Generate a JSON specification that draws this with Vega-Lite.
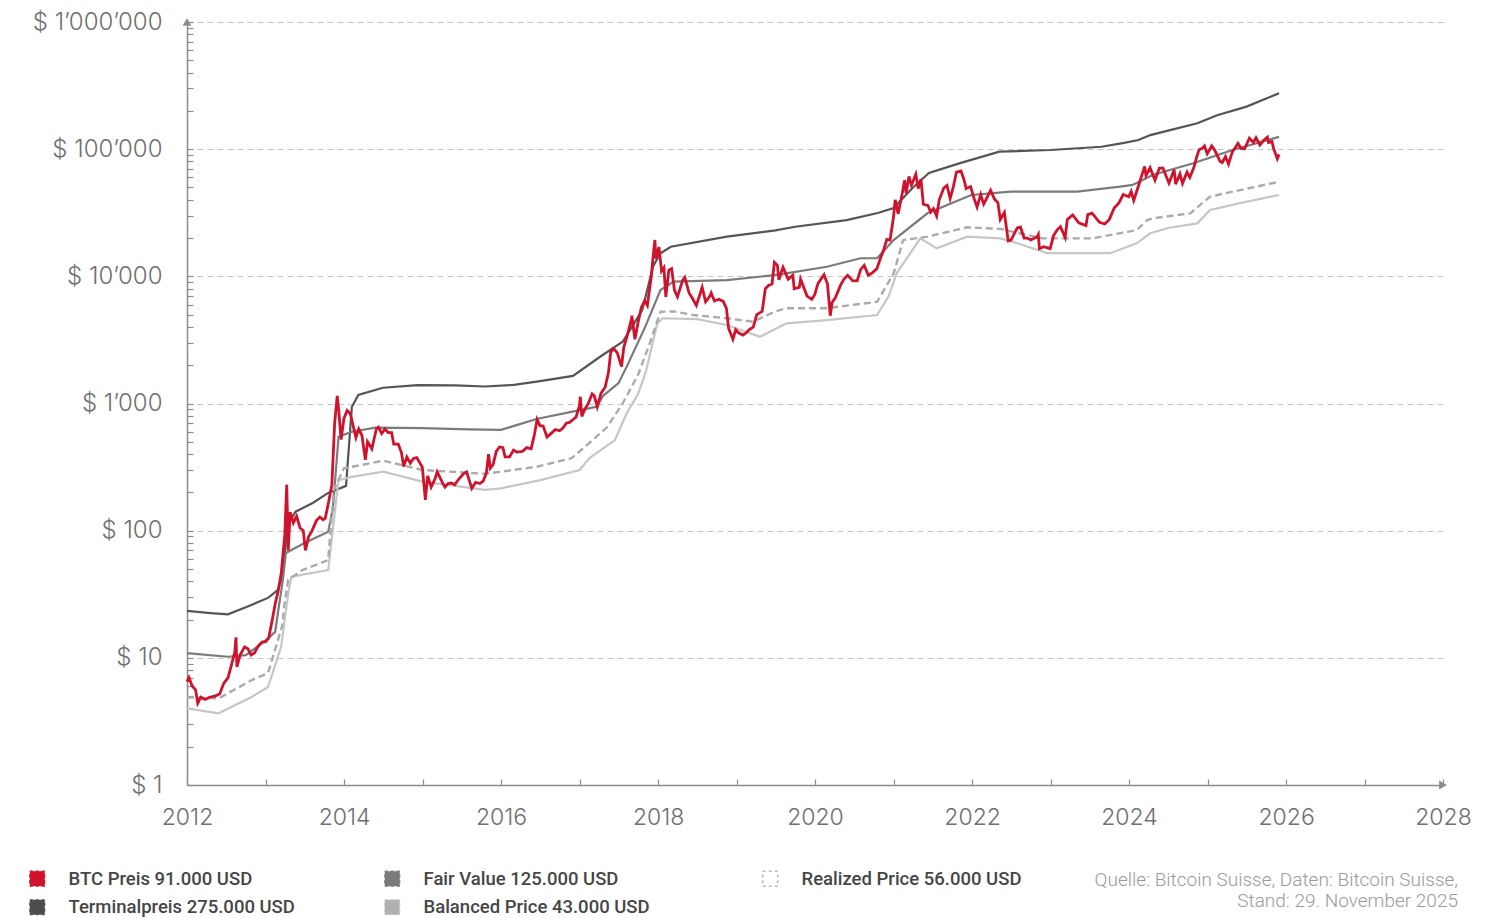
{
  "$schema": "https://vega.github.io/schema/vega-lite/v6.json",
  "width": 1256,
  "height": 763,
  "autosize": {"type": "none"},
  "padding": {"left": 187, "top": 22, "right": 44, "bottom": 133},
  "background": "white",
  "config": {
    "view": {"stroke": null},
    "font": "Inter"
  },
  "title": {
    "text": ["Quelle: Bitcoin Suisse, Daten: Bitcoin Suisse,", "Stand: 29. November 2025"],
    "orient": "bottom",
    "anchor": "end",
    "frame": "group",
    "align": "right",
    "font": "Roboto",
    "fontSize": 19,
    "fontWeight": 300,
    "color": "#9a9a9a",
    "lineHeight": 21,
    "offset": -47,
    "dx": 15
  },
  "datasets": {
    "btc": [
      {"d":"2012-01-01","v":6.5},{"d":"2012-01-10","v":7.0},{"d":"2012-01-25","v":6.0},{"d":"2012-02-10","v":5.6},{"d":"2012-02-20","v":4.4},{"d":"2012-03-05","v":4.9},{"d":"2012-03-25","v":4.7},{"d":"2012-04-15","v":4.9},{"d":"2012-05-10","v":5.0},{"d":"2012-06-01","v":5.2},{"d":"2012-06-20","v":6.3},{"d":"2012-07-10","v":7.0},{"d":"2012-07-25","v":8.7},{"d":"2012-08-10","v":11.0},{"d":"2012-08-16","v":14.5},{"d":"2012-08-20","v":8.5},{"d":"2012-09-05","v":10.6},{"d":"2012-09-25","v":12.2},{"d":"2012-10-10","v":11.8},{"d":"2012-10-25","v":10.5},{"d":"2012-11-10","v":10.9},{"d":"2012-11-28","v":12.4},{"d":"2012-12-15","v":13.3},
      {"d":"2013-01-01","v":13.4},{"d":"2013-01-15","v":14.3},{"d":"2013-02-01","v":20},{"d":"2013-02-15","v":27},{"d":"2013-03-01","v":34},{"d":"2013-03-15","v":47},{"d":"2013-03-31","v":93},{"d":"2013-04-09","v":230},{"d":"2013-04-16","v":70},{"d":"2013-04-25","v":140},{"d":"2013-05-10","v":115},{"d":"2013-05-25","v":130},{"d":"2013-06-10","v":105},{"d":"2013-06-25","v":100},{"d":"2013-07-05","v":70},{"d":"2013-07-20","v":90},{"d":"2013-08-05","v":100},{"d":"2013-08-25","v":120},{"d":"2013-09-10","v":128},{"d":"2013-09-25","v":122},{"d":"2013-10-05","v":125},{"d":"2013-10-20","v":165},{"d":"2013-11-05","v":230},{"d":"2013-11-18","v":700},{"d":"2013-11-30","v":1150},{"d":"2013-12-07","v":880},{"d":"2013-12-18","v":520},{"d":"2013-12-31","v":760},
      {"d":"2014-01-15","v":880},{"d":"2014-01-30","v":830},{"d":"2014-02-10","v":690},{"d":"2014-02-25","v":540},{"d":"2014-03-10","v":630},{"d":"2014-03-25","v":560},{"d":"2014-04-10","v":360},{"d":"2014-04-20","v":500},{"d":"2014-05-10","v":440},{"d":"2014-05-31","v":630},{"d":"2014-06-10","v":650},{"d":"2014-06-25","v":580},{"d":"2014-07-10","v":630},{"d":"2014-07-25","v":590},{"d":"2014-08-10","v":590},{"d":"2014-08-20","v":480},{"d":"2014-09-10","v":480},{"d":"2014-09-25","v":410},{"d":"2014-10-05","v":320},{"d":"2014-10-20","v":380},{"d":"2014-11-05","v":340},{"d":"2014-11-20","v":370},{"d":"2014-12-05","v":375},{"d":"2014-12-31","v":315},
      {"d":"2015-01-14","v":175},{"d":"2015-01-25","v":270},{"d":"2015-02-10","v":220},{"d":"2015-02-28","v":255},{"d":"2015-03-10","v":290},{"d":"2015-03-31","v":245},{"d":"2015-04-15","v":220},{"d":"2015-04-30","v":235},{"d":"2015-05-15","v":237},{"d":"2015-05-31","v":230},{"d":"2015-06-15","v":250},{"d":"2015-07-10","v":280},{"d":"2015-07-25","v":290},{"d":"2015-08-18","v":215},{"d":"2015-09-05","v":240},{"d":"2015-09-25","v":235},{"d":"2015-10-10","v":245},{"d":"2015-10-25","v":285},{"d":"2015-11-04","v":400},{"d":"2015-11-12","v":310},{"d":"2015-11-25","v":330},{"d":"2015-12-10","v":420},{"d":"2015-12-25","v":455},
      {"d":"2016-01-10","v":450},{"d":"2016-01-20","v":380},{"d":"2016-02-10","v":380},{"d":"2016-02-28","v":430},{"d":"2016-03-15","v":415},{"d":"2016-04-10","v":420},{"d":"2016-04-30","v":450},{"d":"2016-05-20","v":440},{"d":"2016-06-05","v":575},{"d":"2016-06-17","v":750},{"d":"2016-06-30","v":670},{"d":"2016-07-15","v":665},{"d":"2016-08-02","v":545},{"d":"2016-08-20","v":580},{"d":"2016-09-10","v":625},{"d":"2016-09-30","v":610},{"d":"2016-10-15","v":640},{"d":"2016-10-31","v":700},{"d":"2016-11-15","v":710},{"d":"2016-11-30","v":745},{"d":"2016-12-15","v":780},{"d":"2016-12-31","v":960},
      {"d":"2017-01-04","v":1130},{"d":"2017-01-11","v":790},{"d":"2017-01-25","v":900},{"d":"2017-02-10","v":1000},{"d":"2017-02-28","v":1190},{"d":"2017-03-10","v":1150},{"d":"2017-03-24","v":940},{"d":"2017-04-10","v":1200},{"d":"2017-04-30","v":1350},{"d":"2017-05-15","v":1750},{"d":"2017-05-25","v":2500},{"d":"2017-06-05","v":2700},{"d":"2017-06-12","v":2650},{"d":"2017-06-25","v":2500},{"d":"2017-07-15","v":1950},{"d":"2017-07-25","v":2750},{"d":"2017-08-10","v":3400},{"d":"2017-08-31","v":4700},{"d":"2017-09-01","v":4900},{"d":"2017-09-15","v":3200},{"d":"2017-09-30","v":4350},{"d":"2017-10-15","v":5700},{"d":"2017-10-31","v":6450},{"d":"2017-11-12","v":5900},{"d":"2017-11-30","v":9900},{"d":"2017-12-10","v":15000},{"d":"2017-12-17","v":19300},{"d":"2017-12-22","v":13800},
      {"d":"2018-01-05","v":17000},{"d":"2018-01-17","v":11000},{"d":"2018-01-28","v":11700},{"d":"2018-02-06","v":6900},{"d":"2018-02-20","v":11200},{"d":"2018-03-05","v":11500},{"d":"2018-03-18","v":7800},{"d":"2018-04-01","v":6900},{"d":"2018-04-25","v":9300},{"d":"2018-05-05","v":9800},{"d":"2018-05-25","v":7400},{"d":"2018-06-10","v":6700},{"d":"2018-06-28","v":5900},{"d":"2018-07-25","v":8200},{"d":"2018-08-10","v":6300},{"d":"2018-08-30","v":7000},{"d":"2018-09-05","v":7400},{"d":"2018-09-20","v":6400},{"d":"2018-10-10","v":6600},{"d":"2018-10-31","v":6350},{"d":"2018-11-15","v":5600},{"d":"2018-11-25","v":3900},{"d":"2018-12-15","v":3200},{"d":"2018-12-28","v":3800},
      {"d":"2019-01-10","v":3600},{"d":"2019-01-31","v":3450},{"d":"2019-02-15","v":3600},{"d":"2019-02-28","v":3800},{"d":"2019-03-20","v":4000},{"d":"2019-04-05","v":5000},{"d":"2019-04-30","v":5300},{"d":"2019-05-15","v":8000},{"d":"2019-05-31","v":8500},{"d":"2019-06-15","v":8700},{"d":"2019-06-26","v":12900},{"d":"2019-07-10","v":12200},{"d":"2019-07-17","v":9400},{"d":"2019-08-05","v":11800},{"d":"2019-08-29","v":9500},{"d":"2019-09-20","v":10200},{"d":"2019-09-26","v":8000},{"d":"2019-10-20","v":8200},{"d":"2019-10-26","v":9500},{"d":"2019-11-25","v":7000},{"d":"2019-12-17","v":6600},{"d":"2019-12-31","v":7200},
      {"d":"2020-01-15","v":8800},{"d":"2020-02-12","v":10300},{"d":"2020-02-28","v":8700},{"d":"2020-03-12","v":4900},{"d":"2020-03-20","v":6200},{"d":"2020-04-05","v":6800},{"d":"2020-04-30","v":8600},{"d":"2020-05-15","v":9500},{"d":"2020-06-01","v":10200},{"d":"2020-06-25","v":9200},{"d":"2020-07-15","v":9200},{"d":"2020-07-31","v":11300},{"d":"2020-08-17","v":12200},{"d":"2020-09-05","v":10200},{"d":"2020-09-25","v":10700},{"d":"2020-10-15","v":11500},{"d":"2020-10-31","v":13800},{"d":"2020-11-15","v":16000},{"d":"2020-11-30","v":19500},{"d":"2020-12-15","v":19300},{"d":"2020-12-31","v":29000},
      {"d":"2021-01-08","v":40000},{"d":"2021-01-22","v":31000},{"d":"2021-02-10","v":45000},{"d":"2021-02-21","v":57000},{"d":"2021-02-28","v":45000},{"d":"2021-03-13","v":61000},{"d":"2021-03-25","v":52000},{"d":"2021-04-14","v":63500},{"d":"2021-04-25","v":49000},{"d":"2021-05-08","v":58000},{"d":"2021-05-19","v":37000},{"d":"2021-06-10","v":36000},{"d":"2021-06-22","v":32000},{"d":"2021-07-05","v":34000},{"d":"2021-07-20","v":29800},{"d":"2021-08-01","v":40000},{"d":"2021-08-22","v":49500},{"d":"2021-09-06","v":51800},{"d":"2021-09-21","v":41000},{"d":"2021-10-05","v":50000},{"d":"2021-10-20","v":66000},{"d":"2021-11-10","v":67500},{"d":"2021-11-25","v":57000},{"d":"2021-12-04","v":49000},{"d":"2021-12-25","v":50800},
      {"d":"2022-01-10","v":41000},{"d":"2022-01-24","v":35000},{"d":"2022-02-10","v":44000},{"d":"2022-02-24","v":37000},{"d":"2022-03-28","v":47500},{"d":"2022-04-15","v":40500},{"d":"2022-05-01","v":38000},{"d":"2022-05-12","v":28000},{"d":"2022-05-31","v":31800},{"d":"2022-06-18","v":19000},{"d":"2022-07-01","v":19300},{"d":"2022-07-30","v":24000},{"d":"2022-08-14","v":24400},{"d":"2022-08-31","v":20000},{"d":"2022-09-15","v":20000},{"d":"2022-10-01","v":19300},{"d":"2022-10-31","v":20500},{"d":"2022-11-05","v":21300},{"d":"2022-11-10","v":16500},{"d":"2022-11-30","v":17100},{"d":"2022-12-30","v":16500},
      {"d":"2023-01-15","v":20900},{"d":"2023-01-31","v":23100},{"d":"2023-02-16","v":24600},{"d":"2023-03-10","v":20200},{"d":"2023-03-20","v":28000},{"d":"2023-04-14","v":30400},{"d":"2023-05-12","v":26300},{"d":"2023-06-15","v":25100},{"d":"2023-06-23","v":30600},{"d":"2023-07-13","v":31400},{"d":"2023-08-17","v":26600},{"d":"2023-09-10","v":25800},{"d":"2023-10-01","v":27900},{"d":"2023-10-24","v":34500},{"d":"2023-11-15","v":37800},{"d":"2023-12-05","v":44000},{"d":"2023-12-31","v":42300},
      {"d":"2024-01-11","v":46500},{"d":"2024-01-23","v":39500},{"d":"2024-02-15","v":52000},{"d":"2024-02-29","v":62000},{"d":"2024-03-14","v":73000},{"d":"2024-03-20","v":62000},{"d":"2024-04-08","v":71600},{"d":"2024-05-01","v":57000},{"d":"2024-05-21","v":71000},{"d":"2024-06-07","v":71000},{"d":"2024-07-05","v":54000},{"d":"2024-07-29","v":69000},{"d":"2024-08-05","v":53000},{"d":"2024-08-25","v":64000},{"d":"2024-09-06","v":53900},{"d":"2024-09-27","v":66000},{"d":"2024-10-10","v":60000},{"d":"2024-10-29","v":72000},{"d":"2024-11-12","v":88000},{"d":"2024-11-22","v":99000},{"d":"2024-12-05","v":101000},{"d":"2024-12-17","v":106000},{"d":"2024-12-30","v":92000},
      {"d":"2025-01-20","v":106000},{"d":"2025-02-03","v":98000},{"d":"2025-02-28","v":80000},{"d":"2025-03-10","v":78500},{"d":"2025-03-25","v":87500},{"d":"2025-04-08","v":76300},{"d":"2025-04-25","v":94500},{"d":"2025-05-22","v":111000},{"d":"2025-06-05","v":101500},{"d":"2025-06-22","v":100800},{"d":"2025-07-14","v":122000},{"d":"2025-08-02","v":113000},{"d":"2025-08-14","v":123000},{"d":"2025-09-01","v":108000},{"d":"2025-09-18","v":117000},{"d":"2025-10-06","v":124500},{"d":"2025-10-11","v":113000},{"d":"2025-10-27","v":115000},{"d":"2025-11-04","v":101000},{"d":"2025-11-21","v":84000},{"d":"2025-11-29","v":91000}
    ],
    "models": [
      {"s":"T","d":"2012-01-01","v":23.4},{"s":"T","d":"2012-04-20","v":22.5},{"s":"T","d":"2012-07-09","v":22},{"s":"T","d":"2012-10-01","v":25},{"s":"T","d":"2013-01-12","v":29.6},{"s":"T","d":"2013-02-25","v":34},{"s":"T","d":"2013-03-22","v":45},{"s":"T","d":"2013-04-13","v":110},{"s":"T","d":"2013-05-20","v":141},{"s":"T","d":"2013-08-08","v":165},{"s":"T","d":"2013-10-19","v":198},{"s":"T","d":"2014-01-10","v":225},{"s":"T","d":"2014-02-06","v":938},{"s":"T","d":"2014-03-08","v":1166},{"s":"T","d":"2014-07-01","v":1330},{"s":"T","d":"2014-12-09","v":1397},{"s":"T","d":"2015-06-01","v":1390},{"s":"T","d":"2015-10-19","v":1360},{"s":"T","d":"2016-03-01","v":1400},{"s":"T","d":"2016-07-01","v":1500},{"s":"T","d":"2016-12-01","v":1650},{"s":"T","d":"2017-04-01","v":2300},{"s":"T","d":"2017-07-20","v":3060},{"s":"T","d":"2017-09-13","v":4300},{"s":"T","d":"2017-10-19","v":5430},{"s":"T","d":"2017-12-09","v":12000},{"s":"T","d":"2018-01-12","v":15200},{"s":"T","d":"2018-03-01","v":17100},{"s":"T","d":"2018-11-17","v":20500},{"s":"T","d":"2019-07-01","v":23000},{"s":"T","d":"2019-10-01","v":24550},{"s":"T","d":"2020-05-27","v":27700},{"s":"T","d":"2020-10-19","v":31500},{"s":"T","d":"2021-01-01","v":34400},{"s":"T","d":"2021-04-01","v":50000},{"s":"T","d":"2021-06-14","v":64900},{"s":"T","d":"2021-11-06","v":77700},{"s":"T","d":"2022-05-08","v":95500},{"s":"T","d":"2023-01-01","v":98500},{"s":"T","d":"2023-08-26","v":104500},{"s":"T","d":"2023-12-09","v":112000},{"s":"T","d":"2024-02-14","v":118000},{"s":"T","d":"2024-04-09","v":129000},{"s":"T","d":"2024-07-01","v":140000},{"s":"T","d":"2024-11-14","v":160000},{"s":"T","d":"2025-02-14","v":185000},{"s":"T","d":"2025-07-01","v":216000},{"s":"T","d":"2025-11-29","v":275000},
      {"s":"F","d":"2012-01-01","v":10.9},{"s":"F","d":"2012-07-09","v":10.2},{"s":"F","d":"2012-10-01","v":10.5},{"s":"F","d":"2013-01-12","v":14.2},{"s":"F","d":"2013-02-14","v":16},{"s":"F","d":"2013-03-22","v":41},{"s":"F","d":"2013-04-05","v":66.7},{"s":"F","d":"2013-07-01","v":80},{"s":"F","d":"2013-10-19","v":98},{"s":"F","d":"2013-11-10","v":150},{"s":"F","d":"2013-12-06","v":548},{"s":"F","d":"2014-02-06","v":600},{"s":"F","d":"2014-05-27","v":645},{"s":"F","d":"2015-01-01","v":640},{"s":"F","d":"2015-08-08","v":625},{"s":"F","d":"2016-01-01","v":620},{"s":"F","d":"2016-06-14","v":755},{"s":"F","d":"2017-03-22","v":944},{"s":"F","d":"2017-04-20","v":1150},{"s":"F","d":"2017-07-01","v":1450},{"s":"F","d":"2017-08-08","v":1950},{"s":"F","d":"2017-10-30","v":3900},{"s":"F","d":"2018-01-12","v":7800},{"s":"F","d":"2018-03-14","v":9080},{"s":"F","d":"2018-11-17","v":9340},{"s":"F","d":"2019-07-01","v":10230},{"s":"F","d":"2020-02-25","v":11900},{"s":"F","d":"2020-07-31","v":13870},{"s":"F","d":"2020-10-16","v":13870},{"s":"F","d":"2021-01-01","v":19300},{"s":"F","d":"2021-06-07","v":31300},{"s":"F","d":"2021-12-28","v":43600},{"s":"F","d":"2022-07-01","v":46300},{"s":"F","d":"2023-05-05","v":46300},{"s":"F","d":"2023-11-21","v":50700},{"s":"F","d":"2024-01-18","v":52300},{"s":"F","d":"2024-04-20","v":62600},{"s":"F","d":"2024-10-26","v":77400},{"s":"F","d":"2025-04-27","v":98500},{"s":"F","d":"2025-11-29","v":125000},
      {"s":"L","d":"2012-01-01","v":4.0},{"s":"L","d":"2012-05-27","v":3.66},{"s":"L","d":"2012-10-30","v":4.95},{"s":"L","d":"2013-01-12","v":5.9},{"s":"L","d":"2013-03-14","v":12.2},{"s":"L","d":"2013-04-16","v":32},{"s":"L","d":"2013-05-01","v":43.5},{"s":"L","d":"2013-10-19","v":49},{"s":"L","d":"2013-12-06","v":250},{"s":"L","d":"2014-02-06","v":265},{"s":"L","d":"2014-07-02","v":291},{"s":"L","d":"2015-01-01","v":243},{"s":"L","d":"2015-10-19","v":209},{"s":"L","d":"2016-01-01","v":215},{"s":"L","d":"2016-07-02","v":250},{"s":"L","d":"2017-01-01","v":300},{"s":"L","d":"2017-02-14","v":371},{"s":"L","d":"2017-06-14","v":516},{"s":"L","d":"2017-08-08","v":838},{"s":"L","d":"2017-10-01","v":1200},{"s":"L","d":"2017-11-06","v":1800},{"s":"L","d":"2017-12-28","v":4270},{"s":"L","d":"2018-01-22","v":4680},{"s":"L","d":"2018-07-02","v":4600},{"s":"L","d":"2018-11-17","v":4140},{"s":"L","d":"2019-04-20","v":3350},{"s":"L","d":"2019-08-22","v":4270},{"s":"L","d":"2020-02-25","v":4530},{"s":"L","d":"2020-10-16","v":4966},{"s":"L","d":"2020-12-09","v":7000},{"s":"L","d":"2021-01-15","v":10560},{"s":"L","d":"2021-05-05","v":19900},{"s":"L","d":"2021-07-20","v":16600},{"s":"L","d":"2021-12-09","v":20500},{"s":"L","d":"2022-05-12","v":19900},{"s":"L","d":"2022-07-31","v":18200},{"s":"L","d":"2022-12-17","v":15200},{"s":"L","d":"2023-10-05","v":15200},{"s":"L","d":"2024-02-06","v":18200},{"s":"L","d":"2024-04-09","v":21800},{"s":"L","d":"2024-07-01","v":24000},{"s":"L","d":"2024-11-14","v":26100},{"s":"L","d":"2025-01-12","v":33300},{"s":"L","d":"2025-05-27","v":37500},{"s":"L","d":"2025-11-29","v":43600}
    ],
    "realized": [
      {"d":"2012-01-01","v":4.9},{"d":"2012-05-27","v":4.8},{"d":"2012-10-30","v":6.7},{"d":"2013-01-12","v":7.6},{"d":"2013-03-18","v":17.6},{"d":"2013-04-01","v":28.5},{"d":"2013-04-16","v":41},{"d":"2013-06-21","v":49},{"d":"2013-10-19","v":58.8},{"d":"2013-11-14","v":209},{"d":"2013-12-31","v":309},{"d":"2014-07-02","v":355},{"d":"2015-01-01","v":300},{"d":"2015-10-19","v":280},{"d":"2016-06-14","v":318},{"d":"2016-11-24","v":371},{"d":"2017-03-03","v":516},{"d":"2017-05-08","v":650},{"d":"2017-07-20","v":1000},{"d":"2017-10-01","v":1700},{"d":"2017-11-24","v":3000},{"d":"2018-01-12","v":5270},{"d":"2018-03-14","v":5300},{"d":"2018-06-14","v":4966},{"d":"2018-11-17","v":4680},{"d":"2019-03-18","v":4400},{"d":"2019-07-01","v":5300},{"d":"2019-08-22","v":5610},{"d":"2020-02-25","v":5610},{"d":"2020-10-16","v":6310},{"d":"2021-01-01","v":10560},{"d":"2021-02-14","v":19300},{"d":"2021-06-07","v":20500},{"d":"2021-12-09","v":24300},{"d":"2022-05-12","v":23600},{"d":"2022-11-24","v":19900},{"d":"2023-07-16","v":19900},{"d":"2024-02-06","v":23100},{"d":"2024-03-26","v":27700},{"d":"2024-04-20","v":28600},{"d":"2024-10-12","v":31300},{"d":"2025-01-12","v":42300},{"d":"2025-04-27","v":46300},{"d":"2025-11-29","v":55400}
    ]
  },
  "layer": [
    {
      "data": {"name": "models"},
      "mark": {"type": "line", "strokeWidth": 2.2},
      "encoding": {
        "x": {
          "field": "d", "type": "temporal",
          "scale": {"domain": [{"year": 2012}, {"year": 2028}], "nice": false},
          "axis": {
            "title": null,
            "values": [{"year":2012},{"year":2013},{"year":2014},{"year":2015},{"year":2016},{"year":2017},{"year":2018},{"year":2019},{"year":2020},{"year":2021},{"year":2022},{"year":2023},{"year":2024},{"year":2025},{"year":2026},{"year":2027},{"year":2028}],
            "labelExpr": "year(datum.value) % 2 == 0 ? timeFormat(datum.value, '%Y') : ''",
            "grid": false,
            "domainColor": "#8c8c8c",
            "domainWidth": 1.5,
            "tickColor": "#8c8c8c",
            "tickWidth": 1.2,
            "tickSize": -6,
            "labelPadding": 27,
            "labelFont": "Inter",
            "labelFontSize": 23,
            "labelFontWeight": 300,
            "labelColor": "#707070",
            "labelFlush": false,
            "labelOverlap": false
          }
        },
        "y": {
          "field": "v", "type": "quantitative",
          "scale": {"type": "log", "domain": [1, 1000000], "nice": false},
          "axis": {
            "title": null,
            "values": [1,2,3,4,5,6,7,8,9,10,20,30,40,50,60,70,80,90,100,200,300,400,500,600,700,800,900,1000,2000,3000,4000,5000,6000,7000,8000,9000,10000,20000,30000,40000,50000,60000,70000,80000,90000,100000,200000,300000,400000,500000,600000,700000,800000,900000,1000000],
            "labelExpr": "datum.value == 1 ? '$ 1' : datum.value == 10 ? '$ 10' : datum.value == 100 ? '$ 100' : datum.value == 1000 ? '$ 1’000' : datum.value == 10000 ? '$ 10’000' : datum.value == 100000 ? '$ 100’000' : datum.value == 1000000 ? '$ 1’000’000' : ''",
            "grid": true,
            "gridDash": [6, 4],
            "gridColor": "#c4c4c4",
            "gridWidth": 1,
            "gridOpacity": {"condition": {"test": "indexof([1,10,100,1000,10000,100000,1000000], datum.value) >= 0", "value": 1}, "value": 0},
            "domainColor": "#8c8c8c",
            "domainWidth": 1.5,
            "tickColor": "#8c8c8c",
            "tickWidth": 1.2,
            "tickSize": -6,
            "labelPadding": 31,
            "labelFont": "Inter",
            "labelFontSize": 24,
            "labelFontWeight": 300,
            "labelColor": "#707070",
            "labelOverlap": false,
            "labelFlush": false
          }
        },
        "color": {
          "field": "s", "type": "nominal",
          "scale": {"domain": ["B", "T", "F", "L", "R"], "range": ["#d0122c", "#555555", "#7b7b7b", "#c6c6c6", "#ababab"]},
          "legend": {
            "title": null,
            "orient": "none",
            "legendX": -159,
            "legendY": 847,
            "columns": 3,
            "symbolType": "square",
            "symbolSize": 225,
            "symbolStrokeWidth": 1,
            "labelFont": "Roboto",
            "labelFontSize": 18.5,
            "labelFontWeight": 500,
            "labelColor": "#464646",
            "labelOffset": 22,
            "rowPadding": 8,
            "columnPadding": 87,
            "labelLimit": 500,
            "labelExpr": "datum.value == 'B' ? 'BTC Preis 91.000 USD' : datum.value == 'F' ? 'Fair Value 125.000 USD' : datum.value == 'R' ? 'Realized Price 56.000 USD' : datum.value == 'T' ? 'Terminalpreis 275.000 USD' : 'Balanced Price 43.000 USD\u00a0\u00a0\u00a0\u00a0\u00a0\u200b'",
            "encode": {
              "symbols": {
                "update": {
                  "fill": [
                    {"test": "datum.value === 'R'", "value": "transparent"},
                    {"test": "datum.value === 'L'", "value": "#b0b0b0"},
                    {"test": "datum.value === 'T'", "value": "#4d4d4d"},
                    {"scale": "color", "field": "value"}
                  ],
                  "stroke": [
                    {"test": "datum.value === 'R'", "value": "#a0a0a0"},
                    {"value": "transparent"}
                  ],
                  "strokeDash": {"value": [3, 3]},
                  "strokeWidth": {"value": 1.2}
                }
              }
            }
          }
        }
      }
    },
    {
      "data": {"name": "realized"},
      "mark": {"type": "line", "strokeWidth": 2.4, "strokeDash": [7, 4], "color": "#ababab"},
      "encoding": {
        "x": {"field": "d", "type": "temporal"},
        "y": {"field": "v", "type": "quantitative"}
      }
    },
    {
      "data": {"name": "btc"},
      "mark": {"type": "line", "strokeWidth": 2.8, "color": "#d0122c"},
      "encoding": {
        "x": {"field": "d", "type": "temporal"},
        "y": {"field": "v", "type": "quantitative"}
      }
    },
    {
      "data": {"values": [{"d": "2028-01-01", "v": 1}]},
      "mark": {"type": "point", "shape": "triangle-right", "filled": true, "size": 80, "color": "#8c8c8c", "opacity": 1},
      "encoding": {
        "x": {"field": "d", "type": "temporal"},
        "y": {"field": "v", "type": "quantitative"}
      }
    },
    {
      "data": {"values": [{"d": "2012-01-01", "v": 1000000}]},
      "mark": {"type": "point", "shape": "triangle-up", "filled": true, "size": 80, "color": "#8c8c8c", "opacity": 1},
      "encoding": {
        "x": {"field": "d", "type": "temporal"},
        "y": {"field": "v", "type": "quantitative"}
      }
    }
  ]
}
